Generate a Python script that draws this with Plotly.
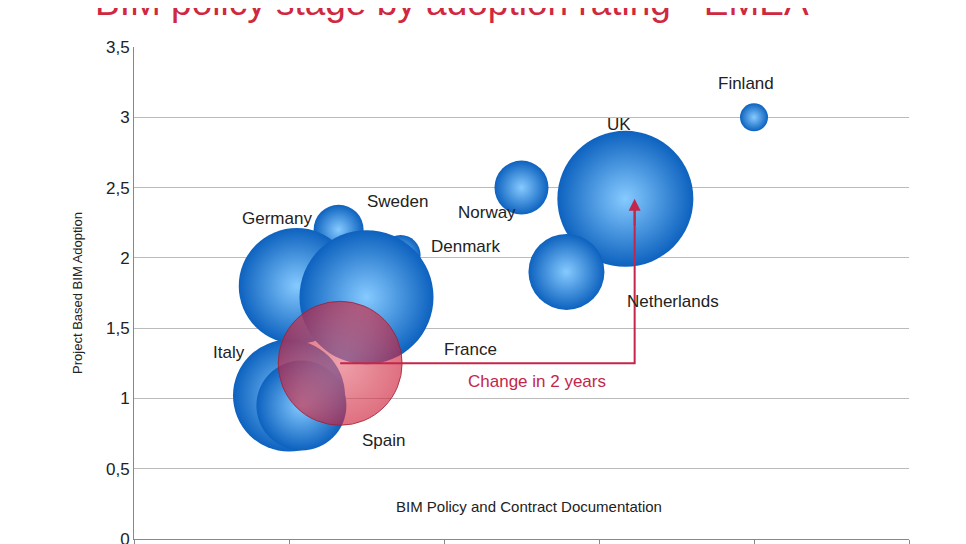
import plotly.graph_objects as go

countries = ["Finland", "UK", "Norway", "Netherlands", "Sweden", "Denmark", "Germany", "France", "Italy", "Spain"]
policy = [4.0, 3.17, 2.5, 2.79, 1.32, 1.72, 1.05, 1.5, 1.0, 1.08]
adoption = [3.0, 2.42, 2.5, 1.9, 2.2, 2.02, 1.8, 1.72, 1.02, 0.95]
bubble = [28, 136, 54, 76, 50, 40, 116, 134, 112, 90]
label_x = [3.95, 3.13, 2.28, 3.48, 1.70, 2.14, 0.92, 2.17, 0.61, 1.61]
label_y = [3.24, 2.95, 2.32, 1.69, 2.40, 2.08, 2.28, 1.35, 1.33, 0.70]

red_x, red_y, red_size = [1.33], [1.25], [124]
arrow_end = (3.23, 2.42)

fig = go.Figure()
fig.add_trace(go.Scatter(
    x=policy, y=adoption, mode="markers",
    marker=dict(size=bubble, sizemode="diameter", color="#0d62bf", opacity=1,
                gradient=dict(type="radial", color="#86caff"),
                line=dict(width=0)),
    showlegend=False, hoverinfo="text", text=countries))
fig.add_trace(go.Scatter(
    x=red_x, y=red_y, mode="markers",
    marker=dict(size=red_size, sizemode="diameter", color="rgba(205,35,60,0.65)", opacity=1,
                gradient=dict(type="radial", color="rgba(230,110,125,0.65)"),
                line=dict(width=1, color="rgba(160,30,50,0.8)")),
    showlegend=False))
fig.add_trace(go.Scatter(
    x=[red_x[0], arrow_end[0], arrow_end[0]], y=[red_y[0], red_y[0], arrow_end[1] - 0.05],
    mode="lines", line=dict(color="#c4264a", width=2), showlegend=False))
fig.add_annotation(x=arrow_end[0], y=arrow_end[1], ax=arrow_end[0], ay=arrow_end[1] - 0.2,
                   xref="x", yref="y", axref="x", ayref="y", showarrow=True,
                   arrowhead=2, arrowsize=1.2, arrowwidth=2, arrowcolor="#c4264a", text="")

for c, lx, ly in zip(countries, label_x, label_y):
    fig.add_annotation(x=lx, y=ly, text=c, showarrow=False,
                       font=dict(family="Arial, Liberation Sans", size=17, color="#222"))
fig.add_annotation(x=2.6, y=1.12, text="Change in 2 years", showarrow=False,
                   font=dict(family="Arial, Liberation Sans", size=17, color="#c4264a"))
fig.add_annotation(x=2.55, y=0.23, text="BIM Policy and Contract Documentation", showarrow=False,
                   font=dict(family="Arial, Liberation Sans", size=15, color="#222"))
fig.add_annotation(x=0.41, y=1.0, xref="paper", yref="paper", yanchor="bottom", yshift=22,
                   text="BIM policy stage by adoption rating - EMEA", showarrow=False,
                   font=dict(family="Arial, Liberation Sans", size=37, color="#d0283e"))

fig.update_layout(
    width=966, height=544, paper_bgcolor="white", plot_bgcolor="white",
    margin=dict(l=126, r=65, t=39, b=7),
    font=dict(family="Arial, Liberation Sans"),
    xaxis=dict(range=[0, 5], dtick=1, showticklabels=False, showgrid=False, zeroline=False,
               showline=True, linecolor="#888", ticks="outside", ticklen=6, tickcolor="#888"),
    yaxis=dict(range=[0, 3.5], dtick=0.5, showgrid=True, gridcolor="#bbb", zeroline=False,
               automargin=False,
               showline=True, linecolor="#888", tickfont=dict(size=17, color="#222"),
               title=dict(text="Project Based BIM Adoption", font=dict(size=13, color="#222"), standoff=20)),
    separators=", ",
)
fig.write_html("out.html")
